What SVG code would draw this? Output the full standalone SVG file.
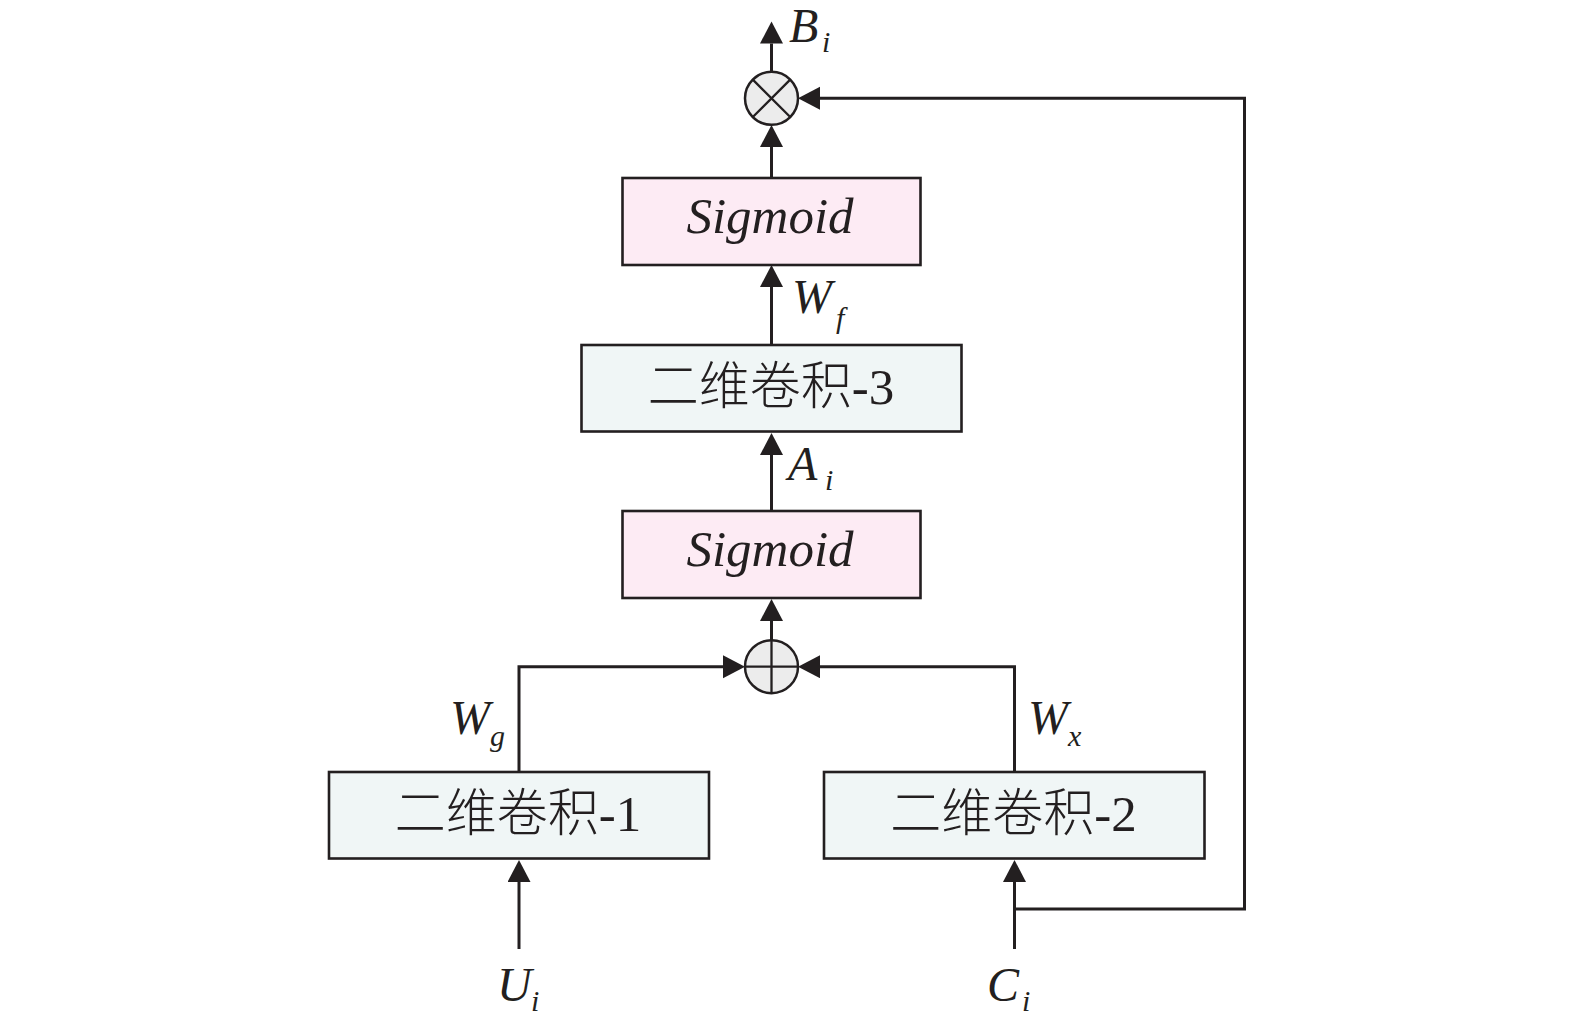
<svg xmlns="http://www.w3.org/2000/svg" width="1575" height="1030" viewBox="0 0 1575 1030">
<style>
.box{stroke:#231f20;stroke-width:2.6}
.sig{fill:#fdebf4}
.conv{fill:#f0f6f6}
.op{fill:#ececec;stroke:#231f20;stroke-width:2.5}
.opl{stroke:#231f20;stroke-width:2.3;fill:none}
.ln{stroke:#231f20;stroke-width:3;fill:none}
.arr{marker-end:url(#ah)}
.v{font-family:"Liberation Serif","Times New Roman",serif;font-style:italic;fill:#231f20}
.big{font-size:48px}
.sub{font-size:30px}
.sgt{font-family:"Liberation Serif","Times New Roman",serif;font-style:italic;font-size:51px;fill:#231f20;text-anchor:middle}
.cjk{font-family:"Liberation Serif","Noto Sans CJK SC",serif;font-size:51px;font-weight:300;fill:#231f20;text-anchor:middle}
</style>
<defs>
<marker id="ah" markerUnits="userSpaceOnUse" markerWidth="24" markerHeight="24" refX="0" refY="11.5" orient="auto" viewBox="0 0 24 24">
<path d="M0,0 L22,11.5 L0,23 z" fill="#231f20"/>
</marker>
</defs>

<g id="connectors">
<path class="ln arr" d="M771.5,71.8 V43.5"/>
<path class="ln arr" d="M1014.5,909 H1244.5 V98.3 H820"/>
<path class="ln arr" d="M771.5,178 V147"/>
<path class="ln arr" d="M771.5,345 V287"/>
<path class="ln arr" d="M771.5,511 V455"/>
<path class="ln arr" d="M771.5,640.2 V621"/>
<path class="ln arr" d="M519,772 V666.7 H723"/>
<path class="ln arr" d="M1014.5,772 V666.7 H820"/>
<path class="ln arr" d="M519,949 V882"/>
<path class="ln arr" d="M1014.5,949 V882"/>
</g>

<g id="mul">
<circle class="op" cx="771.5" cy="98.3" r="26.5"/>
<path class="opl" d="M752.8,79.6 L790.2,117 M790.2,79.6 L752.8,117"/>
</g>
<g id="add">
<circle class="op" cx="771.5" cy="666.7" r="26.5"/>
<path class="opl" d="M745,666.7 H798 M771.5,640.2 V693.2"/>
</g>

<g id="sigmoid2">
<rect class="box sig" x="622.5" y="178" width="298" height="87"/>
<text class="sgt" x="770" y="233">Sigmoid</text>
</g>
<g id="conv3">
<rect class="box conv" x="581.5" y="345" width="380" height="86.5"/>
<text class="cjk" x="771" y="404">二维卷积-3</text>
</g>
<g id="sigmoid1">
<rect class="box sig" x="622.5" y="511" width="298" height="87"/>
<text class="sgt" x="770" y="566">Sigmoid</text>
</g>
<g id="conv1">
<rect class="box conv" x="329" y="772" width="380" height="86.5"/>
<text class="cjk" x="518" y="831">二维卷积-1</text>
</g>
<g id="conv2">
<rect class="box conv" x="824" y="772" width="380.5" height="86.5"/>
<text class="cjk" x="1013.5" y="831">二维卷积-2</text>
</g>

<g id="labels">
<text class="v big" x="789" y="42">B</text><text class="v sub" x="822" y="52">i</text>
<text class="v big" x="792" y="313">W</text><text class="v sub" x="836" y="328">f</text>
<text class="v big" x="788" y="480">A</text><text class="v sub" x="825" y="490">i</text>
<text class="v big" x="450" y="734">W</text><text class="v sub" x="490" y="746">g</text>
<text class="v big" x="1028" y="734">W</text><text class="v sub" x="1068" y="746">x</text>
<text class="v big" x="497" y="1001">U</text><text class="v sub" x="531" y="1011">i</text>
<text class="v big" x="987" y="1001">C</text><text class="v sub" x="1022" y="1011">i</text>
</g>
</svg>
